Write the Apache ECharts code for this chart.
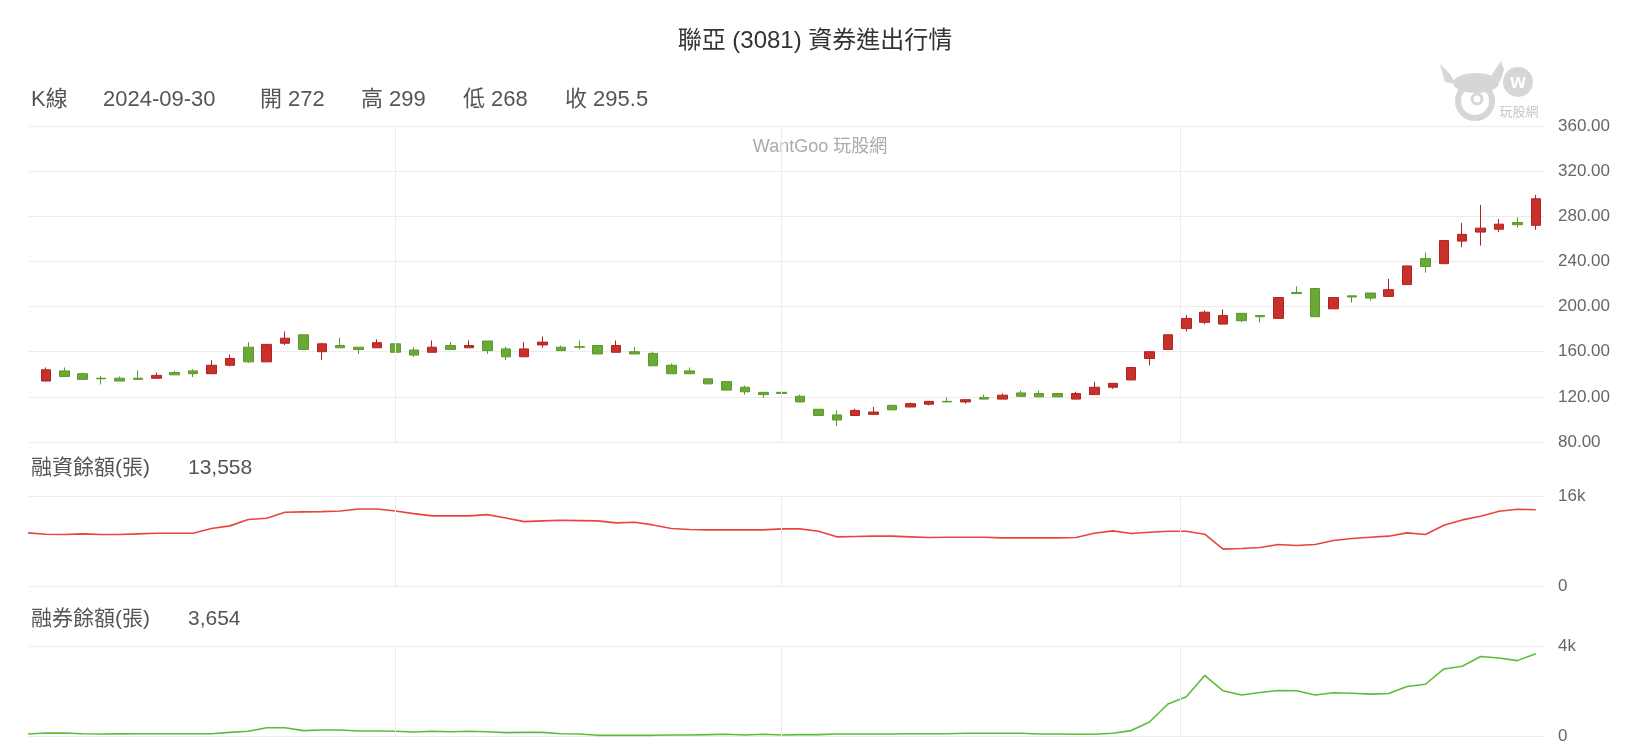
<!DOCTYPE html>
<html><head><meta charset="utf-8">
<script src="https://cdn.jsdelivr.net/npm/echarts@6/dist/echarts.min.js"></script>
<style>html,body{margin:0;padding:0;background:#fff}#c{width:1630px;height:756px}</style>
</head><body><div id="c"></div>
<script>
// ---- data ----
const dates = [
'2024-06-03','2024-06-04','2024-06-05','2024-06-06','2024-06-07','2024-06-11','2024-06-12','2024-06-13','2024-06-14',
'2024-06-17','2024-06-18','2024-06-19','2024-06-20','2024-06-21','2024-06-24','2024-06-25','2024-06-26','2024-06-27','2024-06-28',
'2024-07-01','2024-07-02','2024-07-03','2024-07-04','2024-07-05','2024-07-08','2024-07-09','2024-07-10','2024-07-11','2024-07-12',
'2024-07-15','2024-07-16','2024-07-17','2024-07-18','2024-07-19','2024-07-22','2024-07-23','2024-07-26','2024-07-29','2024-07-30','2024-07-31',
'2024-08-01','2024-08-02','2024-08-05','2024-08-06','2024-08-07','2024-08-08','2024-08-09','2024-08-12','2024-08-13','2024-08-14','2024-08-15','2024-08-16',
'2024-08-19','2024-08-20','2024-08-21','2024-08-22','2024-08-23','2024-08-26','2024-08-27','2024-08-28','2024-08-29','2024-08-30',
'2024-09-02','2024-09-03','2024-09-04','2024-09-05','2024-09-06','2024-09-09','2024-09-10','2024-09-11','2024-09-12','2024-09-13',
'2024-09-16','2024-09-18','2024-09-19','2024-09-20','2024-09-23','2024-09-24','2024-09-25','2024-09-26','2024-09-27','2024-09-30'];
const prevDate = '2024-05-31'; // first point of the balance lines

const openP  = [134,143,140.5,136.5,136.5,136.5,136.5,141.5,143,140.5,148,164,151,167.5,175,160,165.5,164,163.5,
167,161.5,159.5,165.5,163.5,169.5,162.5,155.5,166,164,164.5,165.5,159.5,160,158.5,148,143,136,133.5,128.5,124,
124,120.5,109,104,103.5,104.5,112.5,111,113.5,116,115.5,119.5,118,123.5,123,123,118,122,128.5,135,154,162,
180.5,186,184.5,194,192,189.5,212.5,216,198,209.5,212,209,219.5,242.5,238,258,266,268.5,274.5,272];
const highP  = [146,146,141.5,138.5,138,143.5,141.5,143,144.5,152.5,157.5,168.5,166.5,178,175,168,172.5,164,171,
171,164,170,168.5,170,169.5,164.5,168.5,173.5,165.5,170,165.5,170,164,160,149.5,146,136,133.5,130,124,
130.5,122,109,108,109.5,111,112.5,115,116,119.5,117.5,122,123,125.5,125.5,123,124.5,133.5,132,146,160,175,
192.5,196.5,197.5,194,192,208,218,216,208,209.5,212,224.5,236,248,258.5,274,290,277.5,279,299];
const lowP   = [134,138,135.5,131,134,135.5,136.5,139.5,137.5,140.5,147,150,151,166,162,152.5,163.5,158,163.5,
159.5,155.5,159.5,162,163.5,158,152.5,155.5,163.5,161,162,158,159.5,158,147.5,140.5,140.5,131.5,126,122,119,
123,115.5,103.5,94,103.5,104.5,108.5,111,112.5,115.5,114,118,118,120.5,120,120,118,122,127,135,148,162,
178,184.5,184.5,186,186,189.5,211.5,191,198,203.5,205.5,209,219.5,230,238,252.5,254,266,270,268];
const closeP = [144,138,135.5,136,134,135.5,139,139.5,140.5,148,154,151,166.5,172,162,167,163.5,162,168,
159.5,157,164,162,165.5,161,155.5,162.5,168.5,161,164,158,165.5,158,147.5,140.5,140.5,131.5,126,124.5,122,
123,115.5,103.5,99.5,108,106.5,108.5,114,116,115.5,117.5,118,121.5,120.5,120,120,123,128.5,132,146,160,175,
189.5,195,192,187.5,191,208,211.5,191,208,208.5,207.5,215,236,235.5,258.5,264,269.5,273,272.5,295.5];

// 融資餘額 (張), from prevDate through the last date
const marginBal = [9450,
9210,9150,9270,9150,9150,9270,9390,9390,9390,10210,10690,11810,12040,13110,13170,13230,13340,13700,13700,
13340,12870,12460,12460,12460,12690,12100,11450,11570,11690,11630,11570,11220,11340,10860,10210,10040,9980,9980,9980,
9980,10150,10150,9740,8740,8800,8860,8860,8740,8620,8680,8680,8680,8560,8560,8560,8560,8620,9390,9800,9330,9560,
9740,9740,9210,6550,6670,6850,7380,7200,7380,8090,8440,8680,8860,9450,9150,10800,11750,12400,13280,13640,13558];
// 融券餘額 (張)
const shortBal = [90,
130,130,100,90,95,100,100,100,100,100,160,210,370,370,240,270,270,220,220,
210,180,210,190,210,190,150,160,160,100,90,30,30,30,30,45,45,60,75,45,
75,45,60,60,90,90,90,90,100,100,100,120,120,120,120,90,90,75,75,120,240,620,
1420,1740,2690,2010,1820,1930,2020,2010,1820,1920,1900,1860,1890,2200,2300,2980,3100,3530,3470,3350,3654];

const priceAxis = {min: 80, max: 360, step: 40};
const marginAxis = {min: 0, max: 16000};
const shortAxis = {min: 0, max: 4000};

// ---- helpers ----
const FONT = "'Liberation Sans','Noto Sans CJK TC',sans-serif";
function dayNum(s){ return Date.UTC(+s.slice(0,4), +s.slice(5,7)-1, +s.slice(8,10)) / 864e5; }
const monthPos = [];
for (let k = 1; k < dates.length; k++) {
  if (dates[k].slice(5,7) !== dates[k-1].slice(5,7)) {
    const m1 = dayNum(dates[k].slice(0,8) + '01');
    const a = dayNum(dates[k-1]), b = dayNum(dates[k]);
    monthPos.push(k - 1 + (m1 - a) / (b - a));
  }
}
const kFmt = v => v === 0 ? '0' : (v / 1000) + 'k';
const fmtNum = v => v.toLocaleString('en-US');
const last = dates.length - 1;

const monthLines = {
  silent: true, symbol: ['none','none'], label: {show: false},
  lineStyle: {color: '#ececec', type: 'solid', width: 1},
  emphasis: {disabled: true},
  data: monthPos.map(p => ({xAxis: p}))
};

const candleData = dates.map((d, i) => [i, openP[i], closeP[i], lowP[i], highP[i]]);
const marginData = marginBal.map((v, i) => [i - 1, v]);
const shortData  = shortBal.map((v, i) => [i - 1, v]);

function xAx(g){
  return {type: 'value', gridIndex: g, min: -0.92, max: 81.5,
    axisLine: {show: false}, axisTick: {show: false}, axisLabel: {show: false}, splitLine: {show: false}};
}
function yAx(g, min, max, interval, fmt){
  return {type: 'value', gridIndex: g, position: 'right', min, max, interval,
    axisLine: {show: false}, axisTick: {show: false},
    axisLabel: {formatter: fmt, color: '#666', fontSize: 17, fontFamily: FONT, margin: 13},
    splitLine: {lineStyle: {color: '#ececec', width: 1}}};
}
function txt(x, y, text, size, fill, align){
  return {type: 'text', x, y, silent: true,
    style: {text, fontSize: size, fontFamily: FONT, fill, align: align || 'left', verticalAlign: 'middle'}};
}

const LG = '#d6d6d6';
const option = {
  animation: false,
  backgroundColor: '#fff',
  title: {text: '聯亞 (3081) 資券進出行情', left: 'center', top: 24,
    textStyle: {fontSize: 24, fontWeight: 'normal', color: '#333', fontFamily: FONT}},
  grid: [
    {left: 29, right: 85, top: 126, height: 316},
    {left: 29, right: 85, top: 496, height: 90},
    {left: 29, right: 85, top: 646, height: 90}
  ],
  xAxis: [xAx(0), xAx(1), xAx(2)],
  yAxis: [
    yAx(0, priceAxis.min, priceAxis.max, priceAxis.step, v => v.toFixed(2)),
    yAx(1, marginAxis.min, marginAxis.max, marginAxis.max, kFmt),
    yAx(2, shortAxis.min, shortAxis.max, shortAxis.max, kFmt)
  ],
  graphic: [
    txt(31, 100, 'K線', 22, '#555'),
    txt(103, 100, dates[last], 22, '#555'),
    txt(260, 100, '開 ' + openP[last], 22, '#555'),
    txt(361, 100, '高 ' + highP[last], 22, '#555'),
    txt(463, 100, '低 ' + lowP[last], 22, '#555'),
    txt(565, 100, '收 ' + closeP[last], 22, '#555'),
    txt(820, 147, 'WantGoo 玩股網', 18, '#aaa', 'center'),
    txt(31, 468, '融資餘額(張)', 21, '#555'),
    txt(188, 468, fmtNum(marginBal[marginBal.length-1]), 21, '#555'),
    txt(31, 619, '融券餘額(張)', 21, '#555'),
    txt(188, 619, fmtNum(shortBal[shortBal.length-1]), 21, '#555'),
    // logo (approximate)
    {type: 'group', silent: true, children: [
      {type: 'polygon', shape: {points: [[1440,64],[1445,82],[1456,84],[1450,74]]}, style: {fill: LG}},
      {type: 'polygon', shape: {points: [[1501,61],[1491,76],[1500,82],[1504,70]]}, style: {fill: LG}},
      {type: 'circle', shape: {cx: 1475, cy: 101, r: 17}, style: {fill: '#fff', stroke: LG, lineWidth: 6}},
      {type: 'ellipse', shape: {cx: 1476, cy: 83, rx: 23, ry: 10}, style: {fill: LG}},
      {type: 'circle', shape: {cx: 1477, cy: 99, r: 5}, style: {fill: '#fff', stroke: LG, lineWidth: 3}},
      {type: 'circle', shape: {cx: 1518, cy: 82, r: 15}, style: {fill: LG}},
      {type: 'text', x: 1518, y: 82, style: {text: 'w', fontSize: 20, fontWeight: 'bold', fill: '#fff', fontFamily: FONT, align: 'center', verticalAlign: 'middle'}},
      {type: 'text', x: 1519, y: 112, style: {text: '玩股網', fontSize: 13, fill: '#c8c8c8', fontFamily: FONT, align: 'center', verticalAlign: 'middle'}}
    ]}
  ],
  series: [
    {type: 'candlestick', xAxisIndex: 0, yAxisIndex: 0, data: candleData, barWidth: 10,
      itemStyle: {color: '#c9302c', color0: '#6aa936', borderColor: '#b0241f', borderColor0: '#5a9a2a', borderWidth: 1},
      markLine: monthLines},
    {type: 'line', xAxisIndex: 1, yAxisIndex: 1, data: marginData, showSymbol: false, clip: true,
      lineStyle: {color: '#e8453c', width: 1.6}, markLine: monthLines},
    {type: 'line', xAxisIndex: 2, yAxisIndex: 2, data: shortData, showSymbol: false, clip: true,
      lineStyle: {color: '#5cbc3a', width: 1.6}, markLine: monthLines}
  ]
};
const chart = echarts.init(document.getElementById('c'));
chart.setOption(option);
</script></body></html>
